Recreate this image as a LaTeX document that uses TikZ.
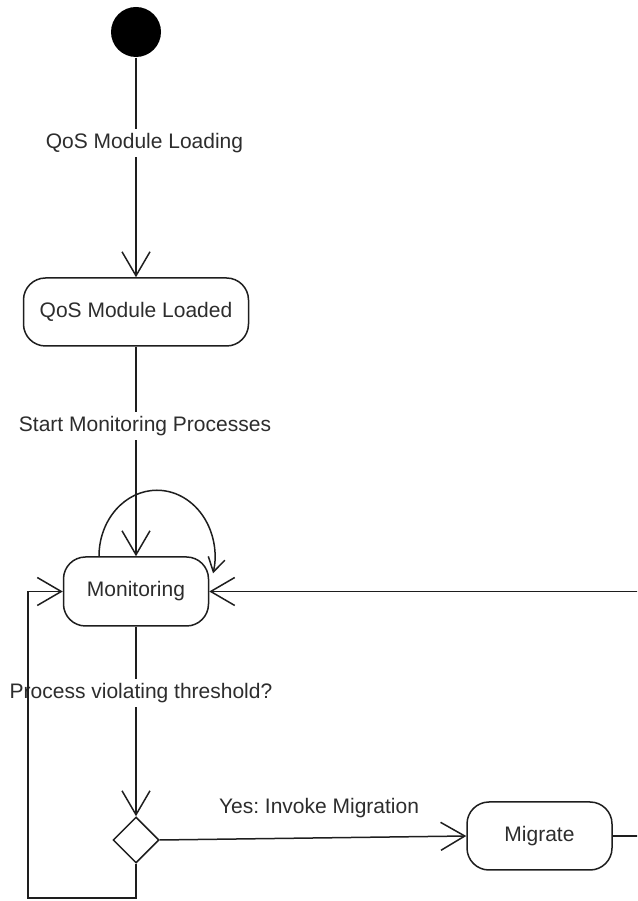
\documentclass[tikz,border=0pt]{standalone}
\usepackage{fontspec}
\setmainfont{Liberation Sans}
\usetikzlibrary{arrows.meta,shapes.geometric}
\frenchspacing

\definecolor{ink}{RGB}{30,30,30}
\definecolor{txt}{RGB}{45,45,45}

\tikzset{
  state/.style={draw=ink, rounded corners=22pt, fill=white, align=center,
    font=\fontsize{21}{24}\selectfont, text=txt},
  lbl/.style={fill=white, inner sep=4pt, font=\fontsize{21}{24}\selectfont, text=txt},
  arr/.style={draw=ink, -{Straight Barb[length=24pt,width=28pt]}},
  smallarr/.style={draw=ink, -{Straight Barb[length=14pt,width=17pt]}},
  initial/.style={circle, fill=black, draw=none, minimum size=50pt, inner sep=0pt},
  choice/.style={diamond, draw=ink, fill=white, minimum width=46pt, minimum height=46pt,
    inner sep=0pt, aspect=1}
}

\begin{document}
\begin{tikzpicture}[x=1pt,y=1pt,line width=1.5pt,color=ink]
  \useasboundingbox (0,0) rectangle (637,901);
  \clip (0,0) rectangle (637,901);

  % states
  \node[initial] (start) at (136,869) {};
  \node[state, minimum width=225pt, minimum height=68pt] (loaded) at (136,589) {QoS Module Loaded};
  \node[state, minimum width=145pt, minimum height=69pt] (mon) at (136,309.5) {Monitoring};
  \node[choice] (dec) at (136,61) {};
  \node[state, minimum width=145pt, minimum height=68pt] (mig) at (539.5,65) {Migrate};

  % helper corners for the routed connectors
  \coordinate (lb) at (28,3);
  \coordinate (rb) at (660,0);

  % main flow
  \draw[arr] (start) -- (loaded);
  \draw[arr] (loaded) -- (mon);
  \draw[arr] (mon) -- (dec);
  \draw[arr] (dec.east) -- (mig.west);

  % self transition on Monitoring
  \draw[smallarr] ([xshift=-37pt]mon.north)
    arc[start angle=180, end angle=-15, x radius=58, y radius=66];

  % Migrate returns to Monitoring
  \draw[arr] (mig.east) -- (rb |- mig.east) -- (rb |- mon.east) -- (mon.east);

  % transition labels
  \node[lbl] (t1) at (144.5,758) {QoS Module Loading};
  \node[lbl] (t2) at (145,475) {Start Monitoring Processes};
  \node[lbl] (t3) at (141,208) {Process violating threshold?};
  \node[lbl] (t4) at (319,93) {Yes: Invoke Migration};

  % no violation: back to Monitoring
  \draw[arr] (dec.south) -- (dec.south |- lb) -- (lb) -- (lb |- mon.west) -- (mon.west);
\end{tikzpicture}
\end{document}
